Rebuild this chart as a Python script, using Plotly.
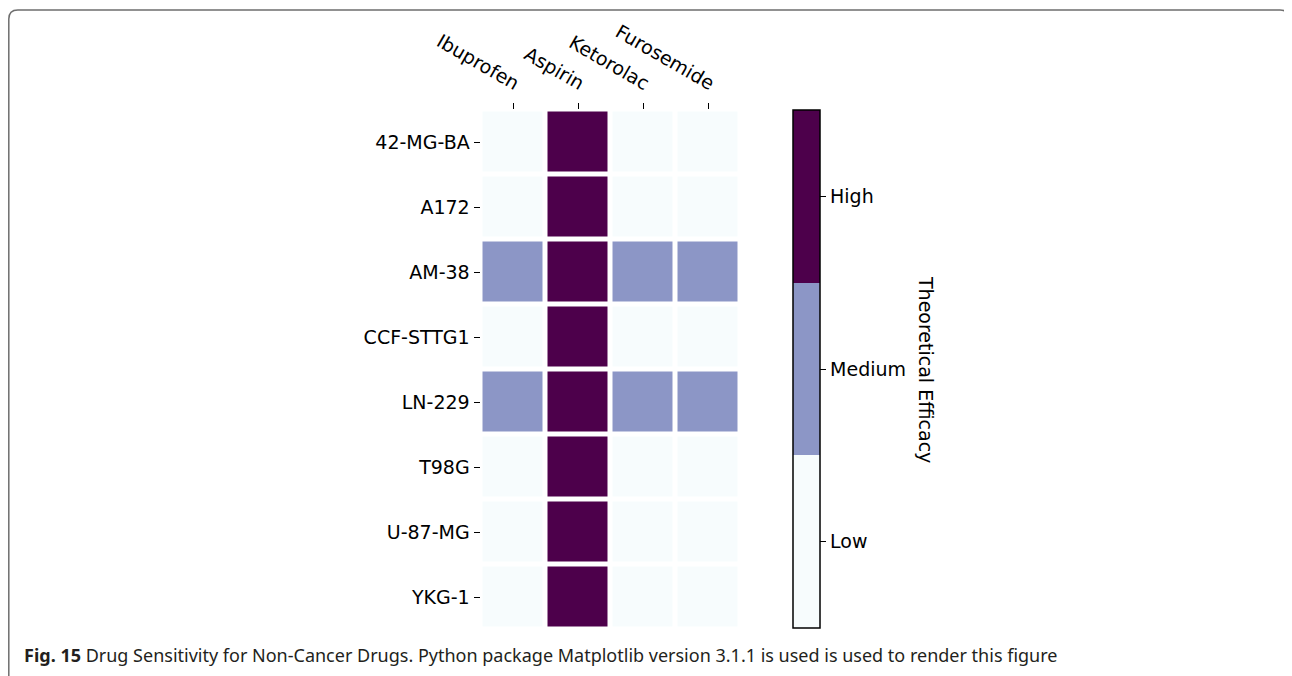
import plotly.graph_objects as go

drugs = ["Ibuprofen", "Aspirin", "Ketorolac", "Furosemide"]
cell_lines = ["42-MG-BA", "A172", "AM-38", "CCF-STTG1", "LN-229", "T98G", "U-87-MG", "YKG-1"]
# 0 = Low, 1 = Medium, 2 = High
efficacy = [
    [0, 2, 0, 0],
    [0, 2, 0, 0],
    [1, 2, 1, 1],
    [0, 2, 0, 0],
    [1, 2, 1, 1],
    [0, 2, 0, 0],
    [0, 2, 0, 0],
    [0, 2, 0, 0],
]
level_labels = ["Low", "Medium", "High"]
level_colors = ["#f7fcfd", "#8c96c6", "#4d004b"]

OFF = 8  # page body margin
W, H = 1292 - OFF, 676 - OFF
def px(x):
    return (x - OFF) / W
def py(y):
    return (H - (y - OFF)) / H

cs = []
n = len(level_colors)
for i, c in enumerate(level_colors):
    cs.append([i / n, c])
    cs.append([(i + 1) / n, c])

font = "DejaVu Sans"
fs = 19
fig = go.Figure()
fig.add_trace(go.Heatmap(
    z=efficacy,
    x=list(range(len(drugs))),
    y=list(range(len(cell_lines))),
    colorscale=cs,
    zmin=-0.5, zmax=n - 0.5,
    xgap=5, ygap=5,
    hoverinfo="skip",
    colorbar=dict(
        tickvals=list(range(n)),
        ticktext=level_labels,
        ticks="outside", ticklen=6, tickwidth=1.2, tickcolor="black",
        tickfont=dict(family=font, size=fs, color="black"),
        thickness=27, thicknessmode="pixels",
        len=518, lenmode="pixels",
        x=px(793), xanchor="left", xref="paper",
        y=py(369), yanchor="middle",
        xpad=0, ypad=0,
        outlinecolor="black", outlinewidth=1.5,
    ),
))

# dark edge line above the Aspirin column (matplotlib artifact)
ai = drugs.index("Aspirin")
fig.add_shape(type="line", xref="x", yref="y",
              x0=ai - 0.5, x1=ai + 0.5, y0=-0.5 - 0.04, y1=-0.5 - 0.04,
              line=dict(color=level_colors[2], width=1.5))

fig.update_layout(
    width=W, height=H,
    margin=dict(l=0, r=0, t=0, b=0, autoexpand=False),
    paper_bgcolor="white", plot_bgcolor="white",
    font=dict(family=font, size=fs, color="black"),
    xaxis=dict(
        domain=[px(480.5), px(740.5)],
        side="top", tickangle=30,
        tickmode="array", tickvals=list(range(len(drugs))), ticktext=drugs,
        ticks="outside", ticklen=6, tickwidth=1.2, tickcolor="black",
        ticklabelshift=6, ticklabelstandoff=3,
        showgrid=False, zeroline=False, showline=False, automargin=False,
        range=[-0.5, len(drugs) - 0.5],
        tickfont=dict(family=font, size=fs, color="black"),
    ),
    yaxis=dict(
        domain=[py(629.5), py(109.5)],
        tickmode="array", tickvals=list(range(len(cell_lines))), ticktext=cell_lines,
        ticks="outside", ticklen=6, tickwidth=1.2, tickcolor="black",
        showgrid=False, zeroline=False, showline=False, automargin=False,
        range=[len(cell_lines) - 0.5, -0.5],
        tickfont=dict(family=font, size=fs, color="black"),
    ),
    annotations=[
        dict(text="Theoretical Efficacy", textangle=90, xref="paper", yref="paper",
             x=px(926), y=py(369), xanchor="center", yanchor="middle",
             showarrow=False, font=dict(family=font, size=fs, color="black")),
        dict(text="<b>Fig. 15</b> Drug Sensitivity for Non-Cancer Drugs. Python package Matplotlib version 3.1.1 is used is used to render this figure",
             xref="paper", yref="paper", x=px(22), y=py(655), xanchor="left", yanchor="middle",
             showarrow=False, font=dict(family="Noto Sans", size=18, color="#231f20")),
    ],
)

# rounded frame (open at the bottom)
r = 9
x0, x1, yt = 8.8, 1289, 10
path = (f"M {px(x0)},{py(H + 30)} L {px(x0)},{py(yt + r)} "
        f"Q {px(x0)},{py(yt)} {px(x0 + r)},{py(yt)} "
        f"L {px(x1 - r)},{py(yt)} Q {px(x1)},{py(yt)} {px(x1)},{py(yt + r)} "
        f"L {px(x1)},{py(H + 30)}")
fig.add_shape(type="path", xref="paper", yref="paper", path=path,
              line=dict(color="#6e6e6e", width=1.5))

fig.write_html("out.html")
